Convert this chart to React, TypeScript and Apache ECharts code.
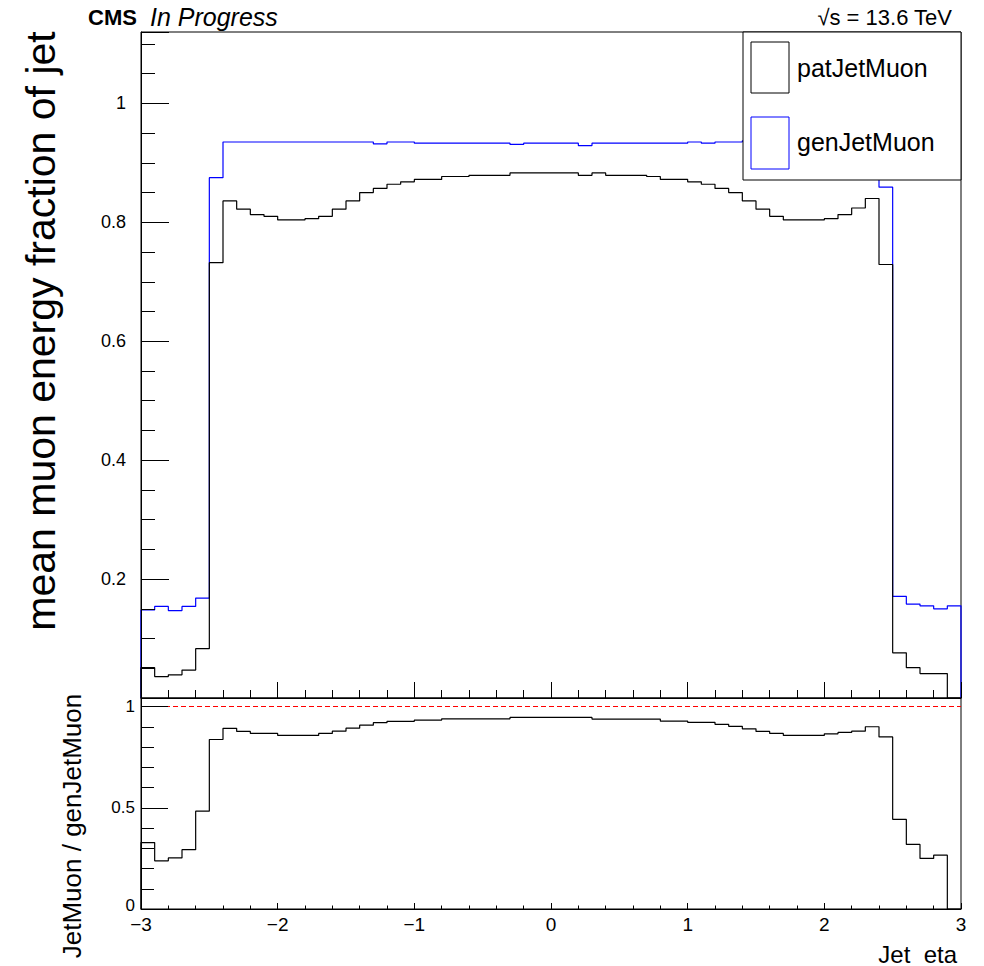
import React, { useEffect, useRef } from 'react';
import * as echarts from 'echarts';

const etaMin = -3;
const etaMax = 3;
const binWidth = 0.1;

const patJetMuon = [
  0.051, 0.036, 0.039, 0.047, 0.083, 0.732, 0.836, 0.822, 0.813, 0.810,
  0.804, 0.804, 0.806, 0.810, 0.822, 0.836, 0.850, 0.857, 0.864, 0.868,
  0.872, 0.872, 0.877, 0.877, 0.879, 0.879, 0.879, 0.883, 0.883, 0.883,
  0.883, 0.883, 0.879, 0.883, 0.879, 0.879, 0.879, 0.877, 0.872, 0.872,
  0.868, 0.864, 0.857, 0.850, 0.836, 0.822, 0.810, 0.804, 0.804, 0.804,
  0.806, 0.813, 0.824, 0.840, 0.729, 0.076, 0.051, 0.041, 0.041, 0.0,
];

const genJetMuon = [
  0.148, 0.154, 0.147, 0.154, 0.168, 0.875, 0.935, 0.935, 0.935, 0.935,
  0.935, 0.935, 0.935, 0.935, 0.935, 0.935, 0.935, 0.932, 0.935, 0.935,
  0.933, 0.933, 0.933, 0.933, 0.933, 0.933, 0.933, 0.931, 0.933, 0.933,
  0.933, 0.933, 0.929, 0.933, 0.933, 0.933, 0.933, 0.933, 0.933, 0.933,
  0.935, 0.933, 0.935, 0.935, 0.937, 0.936, 0.934, 0.937, 0.936, 0.935,
  0.933, 0.932, 0.937, 0.934, 0.859, 0.171, 0.158, 0.155, 0.150, 0.155,
];

const ratioValues = [
  0.328, 0.238, 0.252, 0.293, 0.483, 0.837, 0.892, 0.877, 0.867, 0.867,
  0.857, 0.857, 0.857, 0.867, 0.878, 0.893, 0.908, 0.920, 0.927, 0.927,
  0.933, 0.933, 0.939, 0.939, 0.939, 0.939, 0.939, 0.946, 0.946, 0.946,
  0.946, 0.946, 0.946, 0.938, 0.938, 0.938, 0.938, 0.938, 0.928, 0.928,
  0.922, 0.922, 0.912, 0.902, 0.890, 0.877, 0.867, 0.857, 0.857, 0.857,
  0.865, 0.872, 0.878, 0.900, 0.850, 0.443, 0.319, 0.250, 0.266, 0.0,
];

const unityLine = [1, 1];

const FONT = '"Liberation Sans", Arial, Helvetica, sans-serif';

function outline(values: number[]): number[][] {
  const pts: number[][] = [[etaMin, 0]];
  values.forEach((v, i) => {
    pts.push([Math.round((etaMin + i * binWidth) * 100) / 100, v]);
  });
  pts.push([etaMax, values[values.length - 1]]);
  pts.push([etaMax, 0]);
  return pts;
}

const fmtX = (v: number) => String(v).replace('-', '\u2212');

export default function App() {
  const ref = useRef<HTMLDivElement>(null);

  useEffect(() => {
    if (!ref.current) return;
    const chart = echarts.init(ref.current, undefined, { renderer: 'svg' });

    const baseX = {
      type: 'value',
      min: etaMin,
      max: etaMax,
      interval: 1,
      splitLine: { show: false },
      z: 10,
    };

    const yBase = {
      type: 'value',
      position: 'left',
      z: 10,
      splitLine: { show: false },
    };

    const option: any = {
      animation: false,
      backgroundColor: '#fff',
      grid: [
        { left: 141, top: 32, width: 820, height: 666, show: true, borderColor: '#000', borderWidth: 1, backgroundColor: 'transparent' },
        { left: 141, top: 698, width: 820, height: 211, show: true, borderColor: '#000', borderWidth: 1, backgroundColor: 'transparent' },
      ],
      xAxis: [
        {
          ...baseX,
          gridIndex: 0,
          axisLine: { show: true, onZero: false, lineStyle: { color: '#000', width: 1 } },
          axisLabel: { show: false },
          axisTick: { show: true, inside: true, length: 16, lineStyle: { color: '#000' } },
          minorTick: { show: true, splitNumber: 5, length: 8, lineStyle: { color: '#000' } },
        },
        {
          ...baseX,
          gridIndex: 1,
          axisLine: { show: true, onZero: false, lineStyle: { color: '#000', width: 1 } },
          axisLabel: { show: true, formatter: fmtX, fontSize: 19, color: '#000', fontFamily: FONT, margin: 6 },
          axisTick: { show: true, inside: true, length: 6, lineStyle: { color: '#000' } },
          minorTick: { show: true, splitNumber: 5, length: 3.5, lineStyle: { color: '#000' } },
        },
      ],
      yAxis: [
        {
          ...yBase, gridIndex: 0, min: 0, max: 1.12, interval: 0.2,
          axisLine: { show: true, onZero: false, lineStyle: { color: '#000' } },
          axisTick: { show: true, inside: true, length: 28, lineStyle: { color: '#000' } },
          axisLabel: {
            show: true, fontSize: 18, color: '#000', fontFamily: FONT, margin: 15,
            formatter: (v: number) => (v > 0.001 && v < 1.001 ? String(Math.round(v * 10) / 10) : ''),
          },
        },
        {
          ...yBase, gridIndex: 1, min: 0, max: 1.042, interval: 0.5,
          axisLine: { show: true, onZero: false, lineStyle: { color: '#000' } },
          axisTick: { show: true, inside: true, length: 27, lineStyle: { color: '#000' } },
          axisLabel: {
            show: true, fontSize: 17, color: '#000', fontFamily: FONT, margin: 6,
            formatter: (v: number) => {
              if (v > 1.001) return '';
              if (v < 0.001) return '{z|0}';
              return String(Math.round(v * 10) / 10);
            },
            rich: { z: { fontSize: 17, fontFamily: FONT, color: '#000', padding: [0, 0, 8, 0] } },
          },
        },
        {
          ...yBase, gridIndex: 0, min: 0, max: 1.12, interval: 0.05,
          axisLine: { show: false, onZero: false },
          axisTick: { show: true, inside: true, length: 14, lineStyle: { color: '#000' } },
          axisLabel: { show: false },
        },
        {
          ...yBase, gridIndex: 1, min: 0, max: 1.042, interval: 0.1,
          axisLine: { show: false, onZero: false },
          axisTick: { show: true, inside: true, length: 13, lineStyle: { color: '#000' } },
          axisLabel: { show: false },
        },
      ],
      series: [
        {
          name: 'genJetMuon', type: 'line', xAxisIndex: 0, yAxisIndex: 0, step: 'end',
          data: outline(genJetMuon), symbol: 'none',
          lineStyle: { color: '#0000ff', width: 1.2 }, itemStyle: { color: '#0000ff' },
        },
        {
          name: 'patJetMuon', type: 'line', xAxisIndex: 0, yAxisIndex: 0, step: 'end',
          data: outline(patJetMuon), symbol: 'none',
          lineStyle: { color: '#000', width: 1.2 }, itemStyle: { color: '#000' },
        },
        {
          name: 'ratio', type: 'line', xAxisIndex: 1, yAxisIndex: 1, step: 'end',
          data: outline(ratioValues), symbol: 'none',
          lineStyle: { color: '#000', width: 1.2 }, itemStyle: { color: '#000' },
        },
        {
          name: 'unity', type: 'line', xAxisIndex: 1, yAxisIndex: 1,
          data: [[etaMin, unityLine[0]], [etaMax, unityLine[1]]], symbol: 'none',
          lineStyle: { color: '#ff0000', width: 1.2, type: [5, 3] },
        },
      ],
      graphic: [
        // legend box
        { type: 'rect', z: 100, shape: { x: 743, y: 32, width: 218, height: 148 }, style: { fill: '#fff', stroke: '#000', lineWidth: 1 } },
        { type: 'rect', z: 101, shape: { x: 751, y: 42, width: 38, height: 51 }, style: { fill: '#fff', stroke: '#000', lineWidth: 1 } },
        { type: 'text', z: 101, x: 797, y: 68, style: { text: 'patJetMuon', fontSize: 25, fontFamily: FONT, fill: '#000', textVerticalAlign: 'middle' } },
        { type: 'rect', z: 101, shape: { x: 751, y: 117, width: 38, height: 52 }, style: { fill: '#fff', stroke: '#0000ff', lineWidth: 1 } },
        { type: 'text', z: 101, x: 797, y: 142, style: { text: 'genJetMuon', fontSize: 25, fontFamily: FONT, fill: '#000', textVerticalAlign: 'middle' } },
        // header
        { type: 'text', z: 100, x: 88, y: 17, style: { text: 'CMS', fontSize: 22, fontWeight: 'bold', fontFamily: FONT, fill: '#000', textVerticalAlign: 'middle' } },
        { type: 'text', z: 100, x: 150, y: 17, style: { text: 'In Progress', fontSize: 25, fontStyle: 'italic', fontFamily: FONT, fill: '#000', textVerticalAlign: 'middle' } },
        { type: 'text', z: 100, x: 952, y: 17, style: { text: '\u221As = 13.6 TeV', fontSize: 22, fontFamily: FONT, fill: '#000', textAlign: 'right', textVerticalAlign: 'middle' } },
        // axis titles
        { type: 'text', z: 100, x: 41, y: 331, rotation: Math.PI / 2, style: { text: 'mean muon energy fraction of jet', fontSize: 41, fontFamily: FONT, fill: '#000', textAlign: 'center', textVerticalAlign: 'middle' } },
        { type: 'text', z: 100, x: 72, y: 826, rotation: Math.PI / 2, style: { text: 'JetMuon / genJetMuon', fontSize: 26, fontFamily: FONT, fill: '#000', textAlign: 'center', textVerticalAlign: 'middle' } },
        { type: 'text', z: 100, x: 957, y: 954, style: { text: 'Jet  eta', fontSize: 24, fontFamily: FONT, fill: '#000', textAlign: 'right', textVerticalAlign: 'middle' } },
      ],
    };

    chart.setOption(option);
    return () => chart.dispose();
  }, []);

  return (
    <div
      ref={ref}
      style={{ position: 'fixed', left: 0, top: 0, width: 984, height: 966, background: '#fff' }}
    />
  );
}
